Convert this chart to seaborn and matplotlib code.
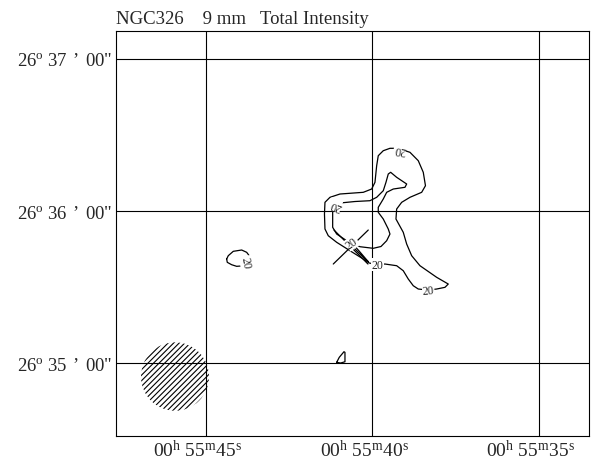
import matplotlib
matplotlib.use("Agg")
import matplotlib.pyplot as plt
import matplotlib.transforms as mtransforms
from matplotlib.patches import Ellipse
import numpy as np
import pandas as pd
import seaborn as sns

# Axes: right ascension (seconds past 00h55m) and declination offset (arcsec past 26d35m00s)
ra_ticks = [45, 40, 35]
ra_labels = [r"00$^{\rm h}$ 55$^{\rm m}$45$^{\rm s}$",
             r"00$^{\rm h}$ 55$^{\rm m}$40$^{\rm s}$",
             r"00$^{\rm h}$ 55$^{\rm m}$35$^{\rm s}$"]
dec_ticks = [0, 60, 120]
dec_labels = [r"26$^{\rm o}$ 35" + "\u2004’\u2004" + '00"',
              r"26$^{\rm o}$ 36" + "\u2004’\u2004" + '00"',
              r"26$^{\rm o}$ 37" + "\u2004’\u2004" + '00"']

# 20 mJy contour: outer loop
outer_ra = [39.27, 39.171, 38.871, 38.622, 38.472, 38.406, 38.52, 38.871, 39.12, 39.27,
            39.291, 39.072, 38.97, 38.82, 38.571, 38.07, 37.722, 37.821, 38.07, 38.322,
            38.622, 38.772, 38.922, 39.072, 39.27, 39.621, 39.846, 40.092, 40.272, 40.671,
            41.07, 41.322, 41.421, 41.436, 41.421, 41.271, 40.971, 40.272, 40.02, 39.921,
            39.87, 39.822, 39.672, 39.471, 39.27]
outer_dec = [84.75, 84.47, 83.17, 79.86, 75.28, 69.99, 67.38, 65.41, 63.43, 60.79,
             56.84, 51.59, 46.97, 42.36, 38.41, 33.83, 31.18, 29.88, 29.21, 28.82,
             29.21, 30.51, 33.16, 36.43, 38.41, 39.08, 38.88, 39.47, 41.05, 44.33,
             47.65, 50.25, 52.90, 58.82, 63.43, 65.41, 66.71, 67.38, 68.68, 71.33,
             77.88, 81.83, 83.80, 84.75, 84.75]

# 20 mJy contour: inner loop with the northern pocket
inner_ra = [41.106, 41.19, 41.19, 41.07, 40.77, 40.521, 40.272, 40.122, 40.371, 40.611,
            40.371, 39.972, 39.741, 39.57, 39.471, 39.522, 39.672, 39.822, 39.822, 39.672,
            39.57, 39.372, 39.021, 38.97, 39.27, 39.45, 39.522, 39.591, 39.672, 39.87,
            40.071, 40.521, 40.911, 41.106]
inner_dec = [62.37, 60.0, 53.57, 50.92, 48.28, 45.0, 41.72, 39.99, 43.82, 47.37,
             45.91, 45.28, 45.99, 48.28, 50.92, 52.90, 56.84, 59.49, 61.46, 64.74,
             67.38, 68.68, 69.36, 70.66, 73.30, 75.28, 74.61, 71.33, 68.01, 65.41,
             64.07, 63.75, 63.24, 62.37]

# isolated western blob
blob_ra = [44.37, 44.322, 44.172, 43.92, 43.77, 43.671, 43.722, 43.791, 43.821, 44.07,
           44.22, 44.352, 44.37]
blob_dec = [41.05, 42.36, 44.09, 44.61, 43.70, 41.96, 41.05, 39.87, 38.41, 38.17,
            38.80, 39.75, 41.05]

# small southern knot
knot_ra = [41.07, 40.992, 40.851, 40.821, 40.821, 40.95, 41.07]
knot_dec = [0.28, 2.25, 4.46, 4.22, 0.51, 0.0, 0.28]

# optical position cross (two arms)
cross1_ra, cross1_dec = [40.122, 41.172], [52.5, 39.08]
cross2_ra, cross2_dec = [41.151, 40.131], [52.5, 39.08]

# contour labels
label_ra = [39.171, 41.106, 40.611, 39.846, 38.322, 43.791]
label_dec = [84.47, 62.37, 47.37, 38.88, 28.82, 39.87]
label_txt = ["20", "20", "20", "20", "20", "20"]
label_rot = [170, 160, 35, 0, 5, -80]

# restoring beam
beam_ra, beam_dec = 45.92, -5.33
beam_w, beam_h = 2.04, 27.0

pieces = [("outer", outer_ra, outer_dec), ("inner", inner_ra, inner_dec),
          ("blob", blob_ra, blob_dec), ("knot", knot_ra, knot_dec),
          ("cross1", cross1_ra, cross1_dec), ("cross2", cross2_ra, cross2_dec)]
df = pd.concat([pd.DataFrame({"ra": r, "dec": d, "piece": n}) for n, r, d in pieces],
               ignore_index=True)

sns.set_style("white")
plt.rcParams["font.family"] = ["Liberation Serif", "DejaVu Serif"]
plt.rcParams["mathtext.fontset"] = "custom"
plt.rcParams["mathtext.rm"] = "Liberation Serif"
plt.rcParams["mathtext.it"] = "Liberation Serif:italic"
plt.rcParams["hatch.linewidth"] = 0.8

fig = plt.figure(figsize=(5.93, 4.64), dpi=100)
ax = fig.add_axes([116 / 593, 27 / 464, 473 / 593, 405 / 464])

beam = Ellipse((beam_ra, beam_dec), beam_w, beam_h, fill=False, hatch="//////",
               edgecolor="black", linewidth=0, zorder=1)
ax.add_patch(beam)

sns.lineplot(data=df, x="ra", y="dec", units="piece", estimator=None, sort=False,
             color="black", linewidth=0.9, ax=ax, zorder=3, legend=False)

for r, d, t, rot in zip(label_ra, label_dec, label_txt, label_rot):
    ax.text(r, d, t, fontsize=8.5, rotation=rot, ha="center", va="center",
            rotation_mode="anchor", zorder=4,
            bbox=dict(facecolor="white", edgecolor="none", pad=0.2))

ax.set_xlim(47.69, 33.5)
ax.set_ylim(-28.8, 131.05)
ax.set_xticks(ra_ticks)
ax.set_xticklabels(ra_labels, fontsize=14)
ax.set_yticks(dec_ticks)
ax.set_yticklabels(dec_labels, fontsize=13.5)
ax.tick_params(axis="both", length=0)
ax.tick_params(axis="x", pad=2.0)
ax.tick_params(axis="y", pad=2.4)
ax.set_xlabel("")
ax.set_ylabel("")
ax.grid(True, color="black", linewidth=0.8)
for s in ax.spines.values():
    s.set_visible(True)
    s.set_color("black")
    s.set_linewidth(0.8)

shift = mtransforms.ScaledTranslation(-8 / 100, 0, fig.dpi_scale_trans)
for lab in ax.get_xticklabels():
    lab.set_transform(lab.get_transform() + shift)

ax.set_title("NGC326    9 mm   Total Intensity", loc="left", fontsize=13.5, pad=6.0)

fig.savefig("out.png", dpi=100)
